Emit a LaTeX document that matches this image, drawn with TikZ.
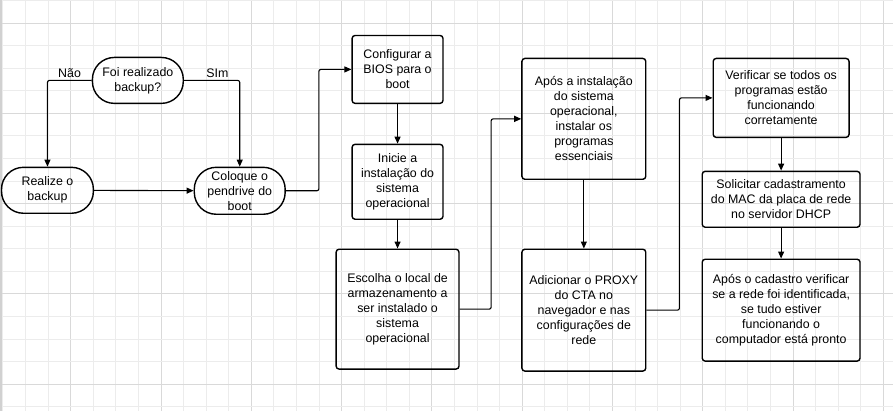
\documentclass[tikz,border=0pt]{standalone}
\usepackage{fontspec}
\setmainfont{Liberation Sans}
\usetikzlibrary{arrows.meta}
\definecolor{minorgrid}{HTML}{ECECEC}
\definecolor{majorgrid}{HTML}{D9D9D9}

\begin{document}
\begin{tikzpicture}[x=1pt,y=-1pt,
	box/.style={draw,line width=1.4pt,rounded corners=3pt,align=center,inner sep=1pt,font=\fontsize{12.4}{15}\selectfont},
	pill/.style={box,rounded corners=22pt,minimum height=46pt},
	arr/.style={-{Triangle[length=7pt,width=6pt]},line width=1.1pt,rounded corners=2pt},
	lbl/.style={font=\fontsize{12.4}{15}\selectfont,above,yshift=-1pt}]
	\fill[white] (0,0) rectangle (893,411);
	\foreach \i in {0,...,39} {
		\pgfmathtruncatemacro{\m}{mod(\i,4)}
		\ifnum\m=3 \draw[majorgrid,line width=1pt] (2.5+\i*22.6,0) -- (2.5+\i*22.6,411);
		\else \draw[minorgrid,line width=1pt] (2.5+\i*22.6,0) -- (2.5+\i*22.6,411); \fi
	}
	\foreach \i in {0,...,18} {
		\pgfmathtruncatemacro{\m}{mod(\i,4)}
		\ifnum\m=1 \draw[majorgrid,line width=1pt] (0,\i*22.6) -- (893,\i*22.6);
		\else \draw[minorgrid,line width=1pt] (0,\i*22.6) -- (893,\i*22.6); \fi
	}
	\fill[black!18] (0,0) rectangle (2,411);

	\node[pill,minimum width=91pt] (dec) at (137.5,80) {Foi realizado\\backup?};
	\node[pill,minimum width=92pt] (real) at (47,190) {Realize o\\backup};
	\node[pill,minimum width=91pt,minimum height=47pt] (col) at (239.5,190.5) {Coloque o\\pendrive do\\boot};
	\node[box,minimum width=91pt,minimum height=68pt] (conf) at (397.5,69) {Configurar a\\BIOS para o\\boot};
	\node[box,minimum width=91pt,minimum height=75pt] (ini) at (397.5,181.5) {Inicie a\\instalação do\\sistema\\operacional};
	\node[box,minimum width=123pt,minimum height=120pt] (esc) at (397.5,309) {Escolha o local de\\armazenamento a\\ser instalado o\\sistema\\operacional};
	\node[box,minimum width=124pt,minimum height=121pt] (apos) at (584,118.5) {Após a instalação\\do sistema\\operacional,\\instalar os\\programas\\essenciais};
	\node[box,minimum width=124pt,minimum height=122pt] (adic) at (584,310) {Adicionar o PROXY\\do CTA no\\navegador e nas\\configurações de\\rede};
	\node[box,minimum width=136pt,minimum height=79pt] (ver) at (781.5,97.5) {Verificar se todos os\\programas estão\\funcionando\\corretamente};
	\node[box,minimum width=158pt,minimum height=56pt] (sol) at (781.5,199) {Solicitar cadastramento\\do MAC da placa de rede\\no servidor DHCP};
	\node[box,minimum width=158pt,minimum height=102pt] (cad) at (781.5,310) {Após o cadastro verificar\\se a rede foi identificada,\\se tudo estiver\\funcionando o\\computador está pronto};

	\draw[arr] (dec.west) -| node[lbl,pos=0.25] {Não} (real.north);
	\draw[arr] (dec.east) -| node[lbl,pos=0.3] {SIm} (col.north);
	\draw[arr] (real) -- (col);
	\draw[arr] (col.east) -- ++(33,0) |- (conf.west);
	\draw[arr] (conf) -- (ini);
	\draw[arr] (ini) -- (esc);
	\draw[arr] (esc.east) -- ++(31.5,0) |- (apos.west);
	\draw[arr] (apos) -- (adic);
	\draw[arr] (adic.east) -- ++(33,0) |- (ver.west);
	\draw[arr] (ver) -- (sol);
	\draw[arr] (sol) -- (cad);
\end{tikzpicture}
\end{document}
